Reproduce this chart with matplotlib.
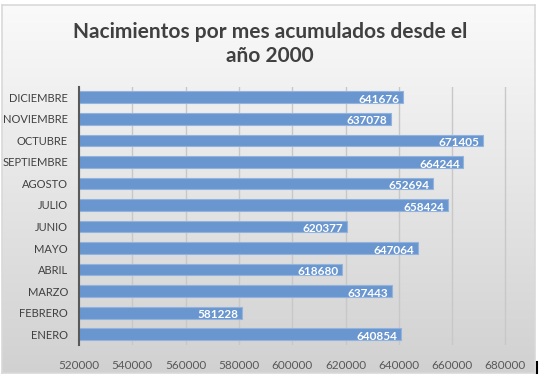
import numpy as np
import matplotlib
matplotlib.use('Agg')
import matplotlib.pyplot as plt

months = ['ENERO', 'FEBRERO', 'MARZO', 'ABRIL', 'MAYO', 'JUNIO', 'JULIO',
          'AGOSTO', 'SEPTIEMBRE', 'OCTUBRE', 'NOVIEMBRE', 'DICIEMBRE']
births = [640854, 581228, 637443, 618680, 647064, 620377, 658424,
          652694, 664244, 671405, 637078, 641676]
xticks = [520000, 540000, 560000, 580000, 600000, 620000, 640000, 660000, 680000]

plt.rcParams['font.family'] = ['Lato', 'DejaVu Sans']

fig = plt.figure(figsize=(5.44, 3.78), dpi=100)
W, H = 544, 378

# chart area background (gradient, light border)
bg = fig.add_axes([2 / W, 1 - 373 / H, 533 / W, 368 / H])
grad = np.linspace(0.98, 0.82, 256).reshape(-1, 1)
bg.imshow(np.dstack([grad, grad, grad]), aspect='auto', extent=[0, 1, 0, 1])
bg.set_xticks([])
bg.set_yticks([])
for s in bg.spines.values():
    s.set_color('#d9d9d9')
    s.set_linewidth(1.2)

# small dark mark at the lower right corner
fig.add_artist(plt.Line2D([536.5 / W, 536.5 / W], [1 - 373 / H, 1 - 362 / H],
                          color='black', linewidth=1.5))

ax = fig.add_axes([79 / W, 1 - 345 / H, 446 / W, 258.5 / H])
ax.patch.set_alpha(0)
y = np.arange(len(months))
bars = ax.barh(y, births, height=0.54, color='#6a96cf', edgecolor='#91b3de',
               linewidth=0.8, zorder=3)
for b, v in zip(bars, births):
    ax.text(v - 1300, b.get_y() + b.get_height() / 2 - 0.1, str(v),
            ha='right', va='center', color='white', fontsize=8.5,
            fontweight='bold', zorder=4)

ax.set_xlim(520000, 520000 + 167350)
ax.set_ylim(-0.5, len(months) - 0.5)
ax.set_xticks(xticks)
ax.set_xticklabels([str(t) for t in xticks], fontsize=8.5, color='#595959')
ax.set_yticks(y)
ax.set_yticklabels(months, fontsize=8, color='#404040')
ax.tick_params(length=0, pad=8)
ax.tick_params(axis='x', pad=11)
ax.grid(axis='x', color='#c8c8c8', linewidth=1, zorder=0)
for s in ['top', 'right', 'bottom']:
    ax.spines[s].set_visible(False)
ax.spines['left'].set_color('#595959')
ax.spines['left'].set_linewidth(1.5)
ax.spines['left'].set_zorder(5)

fig.text(270 / W, 1 - 44 / H, 'Nacimientos por mes acumulados desde el\naño 2000',
         ha='center', va='center', fontsize=15, fontweight='bold',
         color='#404040', linespacing=1.2)

fig.savefig('out.png', dpi=100)
